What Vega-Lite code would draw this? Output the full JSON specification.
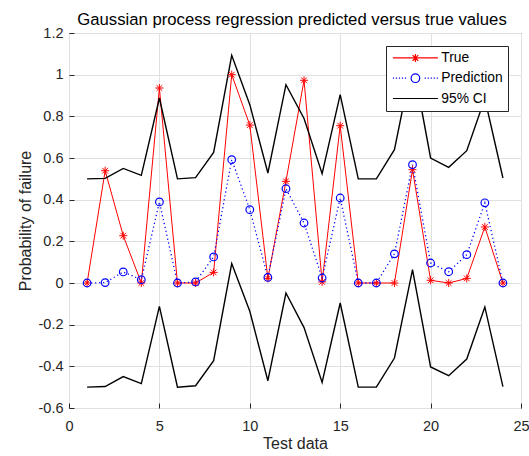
{
  "$schema": "https://vega.github.io/schema/vega-lite/v6.json",
  "autosize": {"type": "none"},
  "width": 452,
  "height": 375,
  "padding": {"left": 69, "top": 33, "right": 8, "bottom": 48},
  "background": "white",
  "config": {
    "font": "Liberation Sans",
    "view": {"stroke": "#262626", "strokeWidth": 1},
    "axis": {
      "domain": false,
      "grid": true,
      "gridColor": "#e0e0e0",
      "gridWidth": 1,
      "ticks": true,
      "tickSize": -5,
      "tickColor": "#262626",
      "labelFont": "Liberation Sans",
      "labelFontSize": 14.5,
      "labelColor": "#262626",
      "labelFlush": false,
      "labelOverlap": false,
      "titleFont": "Liberation Sans",
      "titleFontSize": 16,
      "titleFontWeight": "normal",
      "titleColor": "#262626"
    }
  },
  "title": {
    "text": "Gaussian process regression predicted versus true values",
    "font": "Liberation Sans",
    "fontSize": 16.7,
    "fontWeight": "normal",
    "color": "#000000",
    "anchor": "middle",
    "baseline": "alphabetic",
    "offset": 8,
    "dx": -3,
    "dy": 25
  },
  "data": {
    "values": [
      {"x": 1, "y": 0, "s": "True", "b": "True"},
      {"x": 2, "y": 0.539, "s": "True", "b": "True"},
      {"x": 3, "y": 0.227, "s": "True", "b": "True"},
      {"x": 4, "y": 0, "s": "True", "b": "True"},
      {"x": 5, "y": 0.936, "s": "True", "b": "True"},
      {"x": 6, "y": 0, "s": "True", "b": "True"},
      {"x": 7, "y": 0, "s": "True", "b": "True"},
      {"x": 8, "y": 0.051, "s": "True", "b": "True"},
      {"x": 9, "y": 1.0, "s": "True", "b": "True"},
      {"x": 10, "y": 0.758, "s": "True", "b": "True"},
      {"x": 11, "y": 0.022, "s": "True", "b": "True"},
      {"x": 12, "y": 0.488, "s": "True", "b": "True"},
      {"x": 13, "y": 0.973, "s": "True", "b": "True"},
      {"x": 14, "y": 0.005, "s": "True", "b": "True"},
      {"x": 15, "y": 0.755, "s": "True", "b": "True"},
      {"x": 16, "y": 0, "s": "True", "b": "True"},
      {"x": 17, "y": 0, "s": "True", "b": "True"},
      {"x": 18, "y": 0, "s": "True", "b": "True"},
      {"x": 19, "y": 0.544, "s": "True", "b": "True"},
      {"x": 20, "y": 0.013, "s": "True", "b": "True"},
      {"x": 21, "y": 0, "s": "True", "b": "True"},
      {"x": 22, "y": 0.022, "s": "True", "b": "True"},
      {"x": 23, "y": 0.269, "s": "True", "b": "True"},
      {"x": 24, "y": 0, "s": "True", "b": "True"},
      {"x": 1, "y": 0, "s": "Prediction", "b": "Prediction"},
      {"x": 2, "y": 0.002, "s": "Prediction", "b": "Prediction"},
      {"x": 3, "y": 0.053, "s": "Prediction", "b": "Prediction"},
      {"x": 4, "y": 0.016, "s": "Prediction", "b": "Prediction"},
      {"x": 5, "y": 0.389, "s": "Prediction", "b": "Prediction"},
      {"x": 6, "y": 0, "s": "Prediction", "b": "Prediction"},
      {"x": 7, "y": 0.005, "s": "Prediction", "b": "Prediction"},
      {"x": 8, "y": 0.125, "s": "Prediction", "b": "Prediction"},
      {"x": 9, "y": 0.592, "s": "Prediction", "b": "Prediction"},
      {"x": 10, "y": 0.352, "s": "Prediction", "b": "Prediction"},
      {"x": 11, "y": 0.027, "s": "Prediction", "b": "Prediction"},
      {"x": 12, "y": 0.453, "s": "Prediction", "b": "Prediction"},
      {"x": 13, "y": 0.288, "s": "Prediction", "b": "Prediction"},
      {"x": 14, "y": 0.024, "s": "Prediction", "b": "Prediction"},
      {"x": 15, "y": 0.408, "s": "Prediction", "b": "Prediction"},
      {"x": 16, "y": 0, "s": "Prediction", "b": "Prediction"},
      {"x": 17, "y": 0, "s": "Prediction", "b": "Prediction"},
      {"x": 18, "y": 0.14, "s": "Prediction", "b": "Prediction"},
      {"x": 19, "y": 0.568, "s": "Prediction", "b": "Prediction"},
      {"x": 20, "y": 0.096, "s": "Prediction", "b": "Prediction"},
      {"x": 21, "y": 0.054, "s": "Prediction", "b": "Prediction"},
      {"x": 22, "y": 0.136, "s": "Prediction", "b": "Prediction"},
      {"x": 23, "y": 0.385, "s": "Prediction", "b": "Prediction"},
      {"x": 24, "y": 0, "s": "Prediction", "b": "Prediction"},
      {"x": 1, "y": 0.5, "s": "95% CI", "b": "upper"},
      {"x": 2, "y": 0.502, "s": "95% CI", "b": "upper"},
      {"x": 3, "y": 0.55, "s": "95% CI", "b": "upper"},
      {"x": 4, "y": 0.517, "s": "95% CI", "b": "upper"},
      {"x": 5, "y": 0.888, "s": "95% CI", "b": "upper"},
      {"x": 6, "y": 0.5, "s": "95% CI", "b": "upper"},
      {"x": 7, "y": 0.506, "s": "95% CI", "b": "upper"},
      {"x": 8, "y": 0.627, "s": "95% CI", "b": "upper"},
      {"x": 9, "y": 1.093, "s": "95% CI", "b": "upper"},
      {"x": 10, "y": 0.856, "s": "95% CI", "b": "upper"},
      {"x": 11, "y": 0.528, "s": "95% CI", "b": "upper"},
      {"x": 12, "y": 0.952, "s": "95% CI", "b": "upper"},
      {"x": 13, "y": 0.79, "s": "95% CI", "b": "upper"},
      {"x": 14, "y": 0.525, "s": "95% CI", "b": "upper"},
      {"x": 15, "y": 0.904, "s": "95% CI", "b": "upper"},
      {"x": 16, "y": 0.5, "s": "95% CI", "b": "upper"},
      {"x": 17, "y": 0.5, "s": "95% CI", "b": "upper"},
      {"x": 18, "y": 0.64, "s": "95% CI", "b": "upper"},
      {"x": 19, "y": 1.068, "s": "95% CI", "b": "upper"},
      {"x": 20, "y": 0.6, "s": "95% CI", "b": "upper"},
      {"x": 21, "y": 0.555, "s": "95% CI", "b": "upper"},
      {"x": 22, "y": 0.635, "s": "95% CI", "b": "upper"},
      {"x": 23, "y": 0.885, "s": "95% CI", "b": "upper"},
      {"x": 24, "y": 0.504, "s": "95% CI", "b": "upper"},
      {"x": 1, "y": -0.5, "s": "95% CI", "b": "lower"},
      {"x": 2, "y": -0.497, "s": "95% CI", "b": "lower"},
      {"x": 3, "y": -0.449, "s": "95% CI", "b": "lower"},
      {"x": 4, "y": -0.483, "s": "95% CI", "b": "lower"},
      {"x": 5, "y": -0.112, "s": "95% CI", "b": "lower"},
      {"x": 6, "y": -0.5, "s": "95% CI", "b": "lower"},
      {"x": 7, "y": -0.493, "s": "95% CI", "b": "lower"},
      {"x": 8, "y": -0.373, "s": "95% CI", "b": "lower"},
      {"x": 9, "y": 0.093, "s": "95% CI", "b": "lower"},
      {"x": 10, "y": -0.136, "s": "95% CI", "b": "lower"},
      {"x": 11, "y": -0.469, "s": "95% CI", "b": "lower"},
      {"x": 12, "y": -0.048, "s": "95% CI", "b": "lower"},
      {"x": 13, "y": -0.214, "s": "95% CI", "b": "lower"},
      {"x": 14, "y": -0.477, "s": "95% CI", "b": "lower"},
      {"x": 15, "y": -0.096, "s": "95% CI", "b": "lower"},
      {"x": 16, "y": -0.5, "s": "95% CI", "b": "lower"},
      {"x": 17, "y": -0.5, "s": "95% CI", "b": "lower"},
      {"x": 18, "y": -0.36, "s": "95% CI", "b": "lower"},
      {"x": 19, "y": 0.064, "s": "95% CI", "b": "lower"},
      {"x": 20, "y": -0.403, "s": "95% CI", "b": "lower"},
      {"x": 21, "y": -0.445, "s": "95% CI", "b": "lower"},
      {"x": 22, "y": -0.365, "s": "95% CI", "b": "lower"},
      {"x": 23, "y": -0.115, "s": "95% CI", "b": "lower"},
      {"x": 24, "y": -0.497, "s": "95% CI", "b": "lower"}
    ]
  },
  "encoding": {
    "x": {
      "field": "x",
      "type": "quantitative",
      "scale": {"domain": [0, 25], "nice": false, "zero": false},
      "axis": {
        "title": "Test data",
        "values": [0, 5, 10, 15, 20, 25],
        "labelExpr": "'' + datum.value",
        "labelPadding": 16.3,
        "titlePadding": 3
      }
    },
    "y": {
      "field": "y",
      "type": "quantitative",
      "scale": {"domain": [-0.6, 1.2], "nice": false, "zero": false},
      "axis": {
        "title": "Probability of failure",
        "values": [-0.6, -0.4, -0.2, 0, 0.2, 0.4, 0.6, 0.8, 1, 1.2],
        "labelExpr": "'' + datum.value",
        "labelPadding": 11,
        "titlePadding": 5
      }
    }
  },
  "layer": [
    {
      "transform": [{"filter": "datum.s === 'True'"}],
      "mark": {"type": "line", "clip": true, "stroke": "#ff0000", "strokeWidth": 1}
    },
    {
      "transform": [{"filter": "datum.s === 'Prediction'"}],
      "mark": {"type": "line", "clip": true, "stroke": "#0000ff", "strokeWidth": 1.3, "strokeDash": [1.2, 2.8]}
    },
    {
      "transform": [{"filter": "datum.s === '95% CI'"}],
      "mark": {"type": "line", "clip": true, "stroke": "#000000", "strokeWidth": 1.4},
      "encoding": {"detail": {"field": "b", "type": "nominal"}}
    },
    {
      "transform": [{"filter": "datum.s === 'True'"}],
      "mark": {
        "type": "point",
        "shape": "M-1,0L1,0M0,-1L0,1M-0.71,-0.71L0.71,0.71M-0.71,0.71L0.71,-0.71",
        "size": 64,
        "filled": false,
        "stroke": "#ff0000",
        "strokeWidth": 1,
        "opacity": 1
      }
    },
    {
      "transform": [{"filter": "datum.s === 'Prediction'"}],
      "mark": {
        "type": "point",
        "shape": "circle",
        "size": 58,
        "filled": false,
        "stroke": "#0000ff",
        "strokeWidth": 1.2,
        "opacity": 1
      }
    },
    {
      "transform": [{"filter": "datum.s === 'none'"}],
      "mark": {"type": "point", "filled": false, "opacity": 1, "strokeWidth": 1.2},
      "encoding": {
        "shape": {
          "field": "s",
          "type": "nominal",
          "scale": {
            "domain": ["True", "Prediction", "95% CI"],
            "range": [
              "M-4.5,0L4.5,0M-0.8,0L0.8,0M0,-0.8L0,0.8M-0.57,-0.57L0.57,0.57M-0.57,0.57L0.57,-0.57",
              "M-4.5,0L-4.26,0M-3.9,0L-3.66,0M-3.3,0L-3.06,0M-2.7,0L-2.46,0M-2.1,0L-1.86,0M1.86,0L2.1,0M2.46,0L2.7,0M3.06,0L3.3,0M3.66,0L3.9,0M4.26,0L4.5,0M0.86,0A0.86,0.86,0,1,1,-0.86,0A0.86,0.86,0,1,1,0.86,0",
              "M-4.5,0L4.5,0"
            ]
          },
          "legend": {
            "title": null,
            "orient": "top-right",
            "offset": 13,
            "padding": 5,
            "rowPadding": 5.3,
            "symbolSize": 100,
            "symbolOffset": 17.5,
            "labelOffset": 19,
            "labelFont": "Liberation Sans",
            "labelFontSize": 13.8,
            "labelColor": "#000000",
            "strokeColor": "#262626",
            "fillColor": "#ffffff",
            "cornerRadius": 0,
            "symbolStrokeWidth": 1.2
          }
        },
        "color": {
          "field": "s",
          "type": "nominal",
          "scale": {"domain": ["True", "Prediction", "95% CI"], "range": ["#ff0000", "#0000ff", "#000000"]},
          "legend": {
            "title": null,
            "orient": "top-right",
            "offset": 13,
            "padding": 5,
            "rowPadding": 5.3,
            "symbolSize": 100,
            "symbolOffset": 17.5,
            "labelOffset": 19,
            "labelFont": "Liberation Sans",
            "labelFontSize": 13.8,
            "labelColor": "#000000",
            "strokeColor": "#262626",
            "fillColor": "#ffffff",
            "cornerRadius": 0,
            "symbolStrokeWidth": 1.2
          }
        }
      }
    }
  ]
}
